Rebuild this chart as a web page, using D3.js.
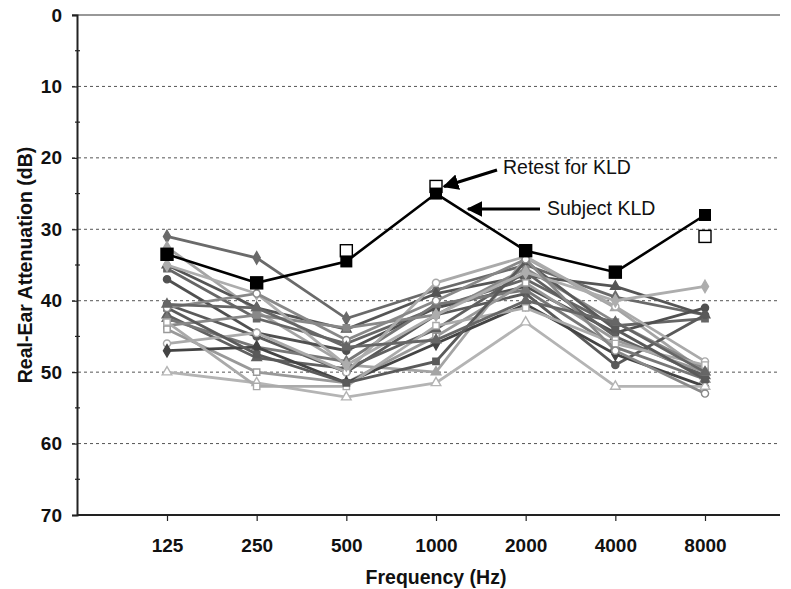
<!DOCTYPE html>
<meta charset="utf-8">
<style>
  body { margin: 0; background: #fff; }
  text { font-family: "Liberation Sans", Arial, sans-serif; }
</style>
<body>
<div class="chart"></div>
<script src="https://d3js.org/d3.v7.min.js"></script>
<script>
    // frequencies (Hz) used as categories
    const freqs = ["125", "250", "500", "1000", "2000", "4000", "8000"];
    const yTicks = [0, 10, 20, 30, 40, 50, 60, 70];

    // subject KLD and the retest
    const kld = [33.5, 37.5, 34.5, 25, 33, 36, 28];
    const kldRetest = [33.5, 37.5, 33, 24, 33, 36, 31];

    // the other subjects
    const subjects = [
        {shape: "diamond", color: "#6a6a6a", open: false, values: [31, 34, 42.5, 38.5, 35, 39.5, 42]},
        {shape: "triangle", color: "#a4a4a4", open: false, values: [32.5, 41.5, 49, 50, 34, 41, 50]},
        {shape: "triangle", color: "#555555", open: false, values: [35, 41, 44, 39, 36.5, 38, 42]},
        {shape: "square", color: "#666666", open: false, values: [35.5, 42.5, 46, 41, 37, 43.5, 42.5]},
        {shape: "circle", color: "#505050", open: false, values: [37, 44.5, 47, 41, 38, 44.5, 41]},
        {shape: "circle", color: "#5a5a5a", open: false, values: [40.5, 45, 50, 42, 39, 49, 42]},
        {shape: "triangle", color: "#606060", open: false, values: [42, 48, 49.5, 44, 36, 45, 50.5]},
        {shape: "triangle", color: "#777777", open: false, values: [42.5, 46.5, 48.5, 40.5, 38.5, 46.5, 51]},
        {shape: "square", color: "#888888", open: false, values: [43.5, 42, 43.8, 42, 35.5, 43, 49.5]},
        {shape: "square", color: "#999999", open: true, values: [44, 50, 51.5, 45, 37.5, 45.5, 50]},
        {shape: "circle", color: "#aaaaaa", open: true, values: [46, 44.5, 50, 37.5, 33.8, 40.8, 48.5]},
        {shape: "diamond", color: "#444444", open: false, values: [47, 46.5, 51.5, 46, 40.5, 47.5, 52]},
        {shape: "triangle", color: "#b4b4b4", open: true, values: [50, 51.5, 53.5, 51.5, 43, 52, 52]},
        {shape: "square", color: "#aaaaaa", open: true, values: [43, 52, 52, 43.5, 41, 46, 49]},
        {shape: "square", color: "#5a5a5a", open: false, values: [41, 47.5, 51.5, 48.5, 34.5, 44, 51]},
        {shape: "diamond", color: "#adadad", open: false, values: [35, 39, 49, 42, 36, 40, 38]},
        {shape: "circle", color: "#888888", open: true, values: [41, 39, 45.5, 40, 34.2, 47, 53]},
        {shape: "triangle", color: "#666666", open: false, values: [40.5, 41, 46.5, 45.5, 40, 43, 50]}
    ];

    const width = 791, height = 589;
    const margin = {top: 15, right: 11, bottom: 74, left: 77};
    const innerW = width - margin.left - margin.right;
    const innerH = height - margin.top - margin.bottom;

    const svg = d3.select(".chart").append("svg")
        .attr("width", width)
        .attr("height", height);
    const g = svg.append("g").attr("transform", `translate(${margin.left},${margin.top})`);

    const x = d3.scalePoint().domain(freqs).range([90, 628]);
    const y = d3.scaleLinear().domain([0, 70]).range([0, innerH]);

    // dashed grid
    g.append("g").selectAll("line")
        .data(yTicks.filter(d => d > 0 && d < 70))
        .join("line")
        .attr("x1", -5).attr("x2", innerW)
        .attr("y1", d => y(d)).attr("y2", d => y(d))
        .attr("stroke", "#555").attr("stroke-width", 1)
        .attr("stroke-dasharray", "3,3");

    // top border
    g.append("line").attr("x1", -5).attr("x2", innerW)
        .attr("y1", 0).attr("y2", 0)
        .attr("stroke", "#333").attr("stroke-width", 1.2);

    // y axis
    const yAxis = g.append("g")
        .call(d3.axisLeft(y).tickValues(yTicks).tickSize(5).tickPadding(10));
    yAxis.select(".domain").attr("stroke", "#222").attr("stroke-width", 2);
    yAxis.selectAll(".tick line").attr("stroke", "#222").attr("stroke-width", 1.2);
    yAxis.selectAll(".tick text")
        .attr("font-family", "Liberation Sans, Arial, sans-serif")
        .attr("font-size", 19).attr("font-weight", "bold").attr("fill", "#111");
    // minor ticks
    g.append("g").selectAll("line")
        .data(d3.range(5, 70, 10))
        .join("line")
        .attr("x1", -2).attr("x2", 3)
        .attr("y1", d => y(d)).attr("y2", d => y(d))
        .attr("stroke", "#222").attr("stroke-width", 1.2);

    // x axis
    const xAxis = g.append("g")
        .attr("transform", `translate(0,${innerH})`)
        .call(d3.axisBottom(x).tickSize(6).tickPadding(18).tickSizeOuter(0));
    xAxis.select(".domain").attr("stroke", "#222").attr("stroke-width", 2)
        .attr("d", `M0,0H${innerW}`);
    xAxis.selectAll(".tick line").attr("stroke", "#222").attr("stroke-width", 1.2);
    xAxis.selectAll(".tick text")
        .attr("font-family", "Liberation Sans, Arial, sans-serif")
        .attr("font-size", 19).attr("font-weight", "bold").attr("fill", "#111");

    // axis titles
    svg.append("text")
        .attr("x", margin.left + x("1000")).attr("y", 584)
        .attr("text-anchor", "middle")
        .attr("font-size", 19.5).attr("font-weight", "bold").attr("fill", "#111")
        .text("Frequency (Hz)");
    svg.append("text")
        .attr("transform", `translate(32,${margin.top + innerH / 2}) rotate(-90)`)
        .attr("text-anchor", "middle")
        .attr("font-size", 19.5).attr("font-weight", "bold").attr("fill", "#111")
        .text("Real-Ear Attenuation (dB)");

    const symbolOf = {
        diamond: d3.symbolDiamond,
        triangle: d3.symbolTriangle,
        square: d3.symbolSquare,
        circle: d3.symbolCircle
    };
    const line = d3.line()
        .x((d, i) => x(freqs[i]))
        .y(d => y(d));

    // subject lines
    const subj = g.append("g").selectAll("g")
        .data(subjects)
        .join("g");
    subj.append("path")
        .attr("d", d => line(d.values))
        .attr("fill", "none")
        .attr("stroke", d => d.color)
        .attr("stroke-width", 2.8);
    subj.selectAll("path.mk")
        .data(d => d.values.map((v, i) => ({v, i, s: d})))
        .join("path")
        .attr("class", "mk")
        .attr("transform", d => `translate(${x(freqs[d.i])},${y(d.v)})`)
        .attr("d", d => d3.symbol().type(symbolOf[d.s.shape]).size(d.s.shape === "diamond" ? 44 : 40)())
        .attr("fill", d => d.s.open ? "#fff" : d.s.color)
        .attr("stroke", d => d.s.color)
        .attr("stroke-width", 1.4);

    // retest markers (open squares)
    g.append("g").selectAll("rect")
        .data(kldRetest)
        .join("rect")
        .attr("x", (d, i) => x(freqs[i]) - 6)
        .attr("y", d => y(d) - 6)
        .attr("width", 12).attr("height", 12)
        .attr("fill", "#fff").attr("stroke", "#000").attr("stroke-width", 1.4);

    // subject KLD
    g.append("path")
        .attr("d", line(kld))
        .attr("fill", "none")
        .attr("stroke", "#000")
        .attr("stroke-width", 2.6);
    g.append("g").selectAll("rect")
        .data(kld)
        .join("rect")
        .attr("x", (d, i) => x(freqs[i]) - 6)
        .attr("y", d => y(d) - 6)
        .attr("width", 12).attr("height", 12)
        .attr("fill", "#000");

    // annotations
    svg.append("defs").append("marker")
        .attr("id", "ah")
        .attr("viewBox", "0 0 10 10")
        .attr("refX", 9).attr("refY", 5)
        .attr("markerWidth", 5).attr("markerHeight", 5)
        .attr("orient", "auto")
        .append("path").attr("d", "M0,0L10,5L0,10Z").attr("fill", "#000");

    const ax = x("1000") + margin.left;
    svg.append("line")
        .attr("x1", ax + 61).attr("y1", 170)
        .attr("x2", ax + 8).attr("y2", y(kldRetest[3]) + margin.top)
        .attr("stroke", "#000").attr("stroke-width", 3.2)
        .attr("marker-end", "url(#ah)");
    svg.append("text")
        .attr("x", ax + 67).attr("y", 174)
        .attr("font-size", 19.5).attr("fill", "#111")
        .text("Retest for KLD");

    svg.append("line")
        .attr("x1", ax + 104).attr("y1", 209)
        .attr("x2", ax + 32).attr("y2", 209)
        .attr("stroke", "#000").attr("stroke-width", 3.2)
        .attr("marker-end", "url(#ah)");
    svg.append("text")
        .attr("x", ax + 111).attr("y", 215)
        .attr("font-size", 19.5).attr("fill", "#111")
        .text("Subject KLD");
</script>
</body>
